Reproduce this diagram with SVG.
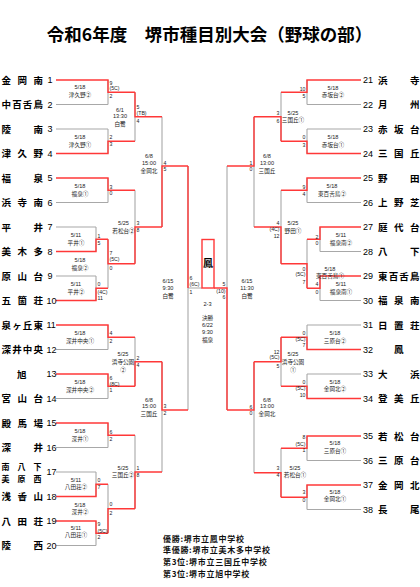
<svg xmlns="http://www.w3.org/2000/svg" width="420" height="587" viewBox="0 0 420 587">
<style>
.g{fill:none;stroke:#a8a8a8;stroke-width:1.1}
.r{fill:none;stroke:#ff3838;stroke-width:1.4}
.t{font-family:"Noto Sans CJK JP","Noto Sans",sans-serif;font-weight:bold;fill:#000}
.nm{font-size:9.5px}
.n2{font-size:8px}
.no{font-family:"Liberation Sans",Arial,sans-serif;font-size:9px;fill:#000}
.lb{font-family:"Liberation Sans","Noto Sans CJK JP",sans-serif;font-size:5.6px;text-anchor:middle;fill:#222}
.sc{font-family:"Liberation Sans",Arial,sans-serif;font-size:5.2px;fill:#222}
.se{text-anchor:end}
.ft{font-family:"Noto Sans CJK JP","Noto Sans",sans-serif;font-size:8px;letter-spacing:0.7px;font-weight:bold;fill:#111}
</style>
<rect width="420" height="587" fill="#fff"/>
<g id="title"><text class="t" x="209.5" y="41" font-size="17.5" text-anchor="middle">令和6年度　堺市種目別大会（野球の部）</text></g>

<g id="connectors">
<path class="g" d="M56 104.5H108M56 129H108M56 202.5H108M56 227H96M56 276H96M56 349.5H108M56 398.5H108M56 447.5H108M56 472H96M56 545.5H96M108 80V104.5M108 129V153.5M108 178V202.5M108 239.25V288.25M108 325V349.5M108 374V398.5M108 423V447.5M108 484.25V533.25M96 227V251.5M96 276V300.5M96 472V496.5M96 521V545.5M135 92.25V141.25M135 190.25V263.75M135 337.25V386.25M135 435.25V508.75M162 116.75V227M162 361.75V472M188 166V410M188 288H202"/>
<path class="g" d="M307 104.5H361M307 129H361M307 202.5H361M320 251.5H361M320 300.5H361M307 325H361M307 374H361M307 460.5H361M307 509.5H361M307 80V104.5M307 129V153.5M307 178V202.5M307 239.25V288.25M307 325V349.5M307 374V398.5M307 436V460.5M307 485V509.5M320 227V251.5M320 276V300.5M281 92.25V141.25M281 190.25V263.75M281 337.25V386.25M281 448.25V497.25M254 116.75V227M254 361.75V472.75M227 166V410"/>
<path class="r" d="M56 80H108V92.25H135M56 153.5H108V141.25H135M135 92.25V116.75H162M56 178H108V190.25H135M56 251.5H96V239.25H108M56 300.5H96V288.25H108M108 239.25V263.75H135M135 263.75V227H162M162 227V166H188M56 325H108V337.25H135M56 374H108V386.25H135M135 386.25V361.75H162M56 423H108V435.25H135M56 496.5H96V484.25H108M56 521H96V533.25H108M108 533.25V508.75H135M135 508.75V472H162M162 361.75V410H188M188 166V288"/>
<path class="r" d="M361 80H307V92.25H281M361 153.5H307V141.25H281M281 141.25V116.75H254M361 178H307V190.25H281M361 227H320V239.25H307M361 276H320V288.25H307M307 288.25V263.75H281M281 263.75V227H254M254 116.75V166H227M361 349.5H307V337.25H281M361 398.5H307V386.25H281M281 337.25V361.75H254M361 436H307V448.25H281M361 485H307V497.25H281M281 497.25V472.75H254M254 361.75V410H227M227 410V288H214"/>
</g>

<g id="champion"><rect class="r" x="202" y="239.5" width="12" height="48.5"/><text class="t" x="208" y="267" font-size="10" text-anchor="middle">鳳</text></g>

<g id="t1"><text class="t nm" x="1.5 17.5 33.5" y="83.6">金岡南</text><text class="no" x="47.5" y="83.2">1</text></g>
<g id="t2"><text class="t nm" x="1.5 12.2 22.8 33.5" y="108.1">中百舌鳥</text><text class="no" x="47.5" y="107.7">2</text></g>
<g id="t3"><text class="t nm" x="1.5 33.5" y="132.6">陵南</text><text class="no" x="47.5" y="132.2">3</text></g>
<g id="t4"><text class="t nm" x="1.5 17.5 33.5" y="157.1">津久野</text><text class="no" x="47.5" y="156.7">4</text></g>
<g id="t5"><text class="t nm" x="1.5 33.5" y="181.6">福泉</text><text class="no" x="47.5" y="181.2">5</text></g>
<g id="t6"><text class="t nm" x="1.5 17.5 33.5" y="206.1">浜寺南</text><text class="no" x="47.5" y="205.7">6</text></g>
<g id="t7"><text class="t nm" x="1.5 33.5" y="230.6">平井</text><text class="no" x="47.5" y="230.2">7</text></g>
<g id="t8"><text class="t nm" x="1.5 17.5 33.5" y="255.1">美木多</text><text class="no" x="47.5" y="254.7">8</text></g>
<g id="t9"><text class="t nm" x="1.5 17.5 33.5" y="279.6">原山台</text><text class="no" x="47.5" y="279.2">9</text></g>
<g id="t10"><text class="t nm" x="1.5 17.5 33.5" y="304.1">五箇荘</text><text class="no" x="46.5" y="303.7">10</text></g>
<g id="t11"><text class="t nm" x="1.5 12.2 22.8 33.5" y="328.6">泉ヶ丘東</text><text class="no" x="46.5" y="328.2">11</text></g>
<g id="t12"><text class="t nm" x="1.5 12.2 22.8 33.5" y="353.1">深井中央</text><text class="no" x="46.5" y="352.7">12</text></g>
<g id="t13"><text class="t nm" x="17" y="377.6">旭</text><text class="no" x="46.5" y="377.2">13</text></g>
<g id="t14"><text class="t nm" x="1.5 17.5 33.5" y="402.1">宮山台</text><text class="no" x="46.5" y="401.7">14</text></g>
<g id="t15"><text class="t nm" x="1.5 17.5 33.5" y="426.6">殿馬場</text><text class="no" x="46.5" y="426.2">15</text></g>
<g id="t16"><text class="t nm" x="1.5 33.5" y="451.1">深井</text><text class="no" x="46.5" y="450.7">16</text></g>
<g id="t17"><text class="t n2" x="1.5 17.5 33.5" y="469.9">南八下</text><text class="t n2" x="1.5 17.5 33.5" y="481.6">美原西</text><text class="no" x="46.5" y="475.2">17</text></g>
<g id="t18"><text class="t nm" x="1.5 17.5 33.5" y="500.1">浅香山</text><text class="no" x="46.5" y="499.7">18</text></g>
<g id="t19"><text class="t nm" x="1.5 17.5 33.5" y="524.6">八田荘</text><text class="no" x="46.5" y="524.2">19</text></g>
<g id="t20"><text class="t nm" x="1.5 33.5" y="549.1">陵西</text><text class="no" x="46.5" y="548.7">20</text></g>

<g id="t21"><text class="no" x="363" y="83.2">21</text><text class="t nm" x="378 410" y="83.6">浜寺</text></g>
<g id="t22"><text class="no" x="363" y="107.7">22</text><text class="t nm" x="378 410" y="108.1">月州</text></g>
<g id="t23"><text class="no" x="363" y="132.2">23</text><text class="t nm" x="378 394 410" y="132.6">赤坂台</text></g>
<g id="t24"><text class="no" x="363" y="156.7">24</text><text class="t nm" x="378 394 410" y="157.1">三国丘</text></g>
<g id="t25"><text class="no" x="363" y="181.2">25</text><text class="t nm" x="378 410" y="181.6">野田</text></g>
<g id="t26"><text class="no" x="363" y="205.7">26</text><text class="t nm" x="378 394 410" y="206.1">上野芝</text></g>
<g id="t27"><text class="no" x="363" y="230.2">27</text><text class="t nm" x="378 394 410" y="230.6">庭代台</text></g>
<g id="t28"><text class="no" x="363" y="254.7">28</text><text class="t nm" x="378 410" y="255.1">八下</text></g>
<g id="t29"><text class="no" x="363" y="279.2">29</text><text class="t nm" x="378 388.7 399.3 410" y="279.6">東百舌鳥</text></g>
<g id="t30"><text class="no" x="363" y="303.7">30</text><text class="t nm" x="378 394 410" y="304.1">福泉南</text></g>
<g id="t31"><text class="no" x="363" y="328.2">31</text><text class="t nm" x="378 394 410" y="328.6">日置荘</text></g>
<g id="t32"><text class="no" x="363" y="352.7">32</text><text class="t nm" x="394" y="353.1">鳳</text></g>
<g id="t33"><text class="no" x="363" y="377.2">33</text><text class="t nm" x="378 410" y="377.6">大浜</text></g>
<g id="t34"><text class="no" x="363" y="401.7">34</text><text class="t nm" x="378 394 410" y="402.1">登美丘</text></g>
<g id="t35"><text class="no" x="363" y="439.2">35</text><text class="t nm" x="378 394 410" y="439.6">若松台</text></g>
<g id="t36"><text class="no" x="363" y="463.7">36</text><text class="t nm" x="378 394 410" y="464.1">三原台</text></g>
<g id="t37"><text class="no" x="363" y="488.2">37</text><text class="t nm" x="378 394 410" y="488.6">金岡北</text></g>
<g id="t38"><text class="no" x="363" y="512.7">38</text><text class="t nm" x="378 410" y="513.1">長尾</text></g>

<g id="m1"><text class="lb" x="80" y="89.35">5/18</text><text class="lb" x="80" y="97.15">津久野②</text><text class="sc" x="109.5" y="84.5">9</text><text class="sc" x="109.5" y="90.3">(5C)</text><text class="sc" x="109.5" y="98">2</text></g>
<g id="m2"><text class="lb" x="80" y="139.35">5/18</text><text class="lb" x="80" y="147.15">津久野①</text><text class="sc" x="109.5" y="139.3">2</text><text class="sc" x="109.5" y="146.3">3</text></g>
<g id="m3"><text class="lb" x="120" y="111.9">6/1</text><text class="lb" x="120" y="118.3">13:30</text><text class="lb" x="120" y="126.2">白鷺</text><text class="sc" x="136.5" y="108.7">5</text><text class="sc" x="136.5" y="115.3">(TB)</text><text class="sc" x="136.5" y="123">4</text></g>
<g id="m4"><text class="lb" x="80" y="187.85">5/18</text><text class="lb" x="80" y="195.65">福泉①</text><text class="sc" x="109.5" y="188.5">3</text><text class="sc" x="109.5" y="195">0</text></g>
<g id="m5"><text class="lb" x="76" y="237.1">5/11</text><text class="lb" x="76" y="244.9">平井①</text><text class="sc" x="97.5" y="238">1</text><text class="sc" x="97.5" y="244.7">5</text></g>
<g id="m6"><text class="lb" x="76" y="285.85">5/11</text><text class="lb" x="76" y="293.65">平井②</text><text class="sc" x="97.5" y="286.3">0</text><text class="sc" x="97.5" y="293.7">(4C)</text><text class="sc" x="97.5" y="300.3">11</text></g>
<g id="m7"><text class="lb" x="80" y="262.1">5/18</text><text class="lb" x="80" y="269.9">福泉②</text><text class="sc" x="109.5" y="255.1">7</text><text class="sc" x="109.5" y="261">(5C)</text><text class="sc" x="109.5" y="269.7">0</text></g>
<g id="m8"><text class="lb" x="123.5" y="225.35">5/25</text><text class="lb" x="123.5" y="233.15">若松台②</text><text class="sc" x="136.5" y="225.3">3</text><text class="sc" x="136.5" y="231.5">8</text></g>
<g id="m9"><text class="lb" x="149" y="158.4">6/8</text><text class="lb" x="149" y="164.8">15:00</text><text class="lb" x="149" y="172.7">金岡北</text><text class="sc" x="163.5" y="164.7">4</text><text class="sc" x="163.5" y="171.3">5</text></g>
<g id="m10"><text class="lb" x="80" y="334.85">5/18</text><text class="lb" x="80" y="342.65">深井中央①</text><text class="sc" x="109.5" y="335.3">4</text><text class="sc" x="109.5" y="343">2</text></g>
<g id="m11"><text class="lb" x="80" y="384.35">5/18</text><text class="lb" x="80" y="392.15">深井中央②</text><text class="sc" x="109.5" y="379.7">6</text><text class="sc" x="109.5" y="385.5">(8C)</text><text class="sc" x="109.5" y="392">1</text></g>
<g id="m12"><text class="lb" x="123" y="356.05">5/25</text><text class="lb" x="123" y="364">浜寺公園</text><text class="lb" x="123" y="372.05">②</text><text class="sc" x="136.5" y="359.7">2</text><text class="sc" x="136.5" y="367">4</text></g>
<g id="m13"><text class="lb" x="80" y="432.85">5/18</text><text class="lb" x="80" y="440.65">深井①</text><text class="sc" x="109.5" y="433.7">6</text><text class="sc" x="109.5" y="441">2</text></g>
<g id="m14"><text class="lb" x="76" y="481.6">5/11</text><text class="lb" x="76" y="489.4">八田荘②</text><text class="sc" x="97.5" y="482">0</text><text class="sc" x="97.5" y="489.3">7</text></g>
<g id="m15"><text class="lb" x="76" y="529.6">5/11</text><text class="lb" x="76" y="537.4">八田荘①</text><text class="sc" x="97.5" y="526.3">9</text><text class="sc" x="97.5" y="532.7">(5C)</text><text class="sc" x="97.5" y="539.3">2</text></g>
<g id="m16"><text class="lb" x="80" y="506.6">5/18</text><text class="lb" x="80" y="514.4">深井②</text><text class="sc" x="109.5" y="506">0</text><text class="sc" x="109.5" y="515.3">2</text></g>
<g id="m17"><text class="lb" x="123" y="469.6">5/25</text><text class="lb" x="123" y="477.4">三国丘②</text><text class="sc" x="136.5" y="470.3">1</text><text class="sc" x="136.5" y="477">8</text></g>
<g id="m18"><text class="lb" x="149" y="401.9">6/8</text><text class="lb" x="149" y="408.3">15:00</text><text class="lb" x="149" y="416.2">三国丘</text><text class="sc" x="163.5" y="408">3</text><text class="sc" x="163.5" y="414.7">2</text></g>
<g id="sf1"><text class="lb" x="168" y="283.4">6/15</text><text class="lb" x="168" y="289.8">9:30</text><text class="lb" x="168" y="297.7">白鷺</text><text class="sc" x="189.5" y="279.7">6</text><text class="sc" x="189.5" y="285.5">(6C)</text><text class="sc" x="189.5" y="293.7">1</text></g>
<g id="sf2"><text class="lb" x="247" y="283.4">6/15</text><text class="lb" x="247" y="289.8">11:30</text><text class="lb" x="247" y="297.7">白鷺</text><text class="sc se" x="225.5" y="286.3">5</text><text class="sc se" x="225.5" y="292.7">(10)</text><text class="sc se" x="225.5" y="298.7">6</text></g>
<g id="final"><text class="lb" x="207.5" y="306">2-3</text><text class="lb" x="207.5" y="320.1">決勝</text><text class="lb" x="207.5" y="326.9">6/22</text><text class="lb" x="207.5" y="333.7">9:30</text><text class="lb" x="207.5" y="341.6">福泉</text></g>

<g id="r1"><text class="lb" x="333" y="89.6">5/18</text><text class="lb" x="333" y="97.4">赤坂台②</text><text class="sc se" x="305.5" y="91.3">10</text><text class="sc se" x="305.5" y="97.7">5</text></g>
<g id="r2"><text class="lb" x="333" y="138.85">5/18</text><text class="lb" x="333" y="146.65">赤坂台①</text><text class="sc se" x="305.5" y="139.3">0</text><text class="sc se" x="305.5" y="147">3</text></g>
<g id="r3"><text class="lb" x="293" y="114.6">5/25</text><text class="lb" x="293" y="122.4">三国丘①</text><text class="sc se" x="279.5" y="115.3">3</text><text class="sc se" x="279.5" y="123">6</text></g>
<g id="r4"><text class="lb" x="332" y="187.85">5/18</text><text class="lb" x="332" y="195.65">東百舌鳥②</text><text class="sc se" x="305.5" y="188.7">9</text><text class="sc se" x="305.5" y="196">4</text></g>
<g id="r5"><text class="lb" x="341" y="237.1">5/11</text><text class="lb" x="341" y="244.9">福泉南②</text><text class="sc se" x="318.5" y="238.7">2</text><text class="sc se" x="318.5" y="244.7">0</text></g>
<g id="r6"><text class="lb" x="330" y="270.6">5/18</text><text class="lb" x="330" y="278.4">東百舌鳥①</text><text class="sc se" x="305.5" y="270.6">0</text><text class="sc se" x="305.5" y="276.4">(5C)</text><text class="sc se" x="305.5" y="283.7">7</text></g>
<g id="r7"><text class="lb" x="341" y="285.85">5/11</text><text class="lb" x="341" y="293.65">福泉南①</text><text class="sc se" x="318.5" y="286.3">4</text><text class="sc se" x="318.5" y="293.7">0</text></g>
<g id="r8"><text class="lb" x="293" y="225.35">5/25</text><text class="lb" x="293" y="233.15">野田①</text><text class="sc se" x="279.5" y="225.3">4</text><text class="sc se" x="279.5" y="231.3">(4C)</text><text class="sc se" x="279.5" y="238">12</text></g>
<g id="r9"><text class="lb" x="267" y="158.4">6/8</text><text class="lb" x="267" y="164.8">13:00</text><text class="lb" x="267" y="172.7">三国丘</text><text class="sc se" x="252.5" y="164.7">1</text><text class="sc se" x="252.5" y="171.3">0</text></g>
<g id="r10"><text class="lb" x="335" y="334.85">5/18</text><text class="lb" x="335" y="342.65">三原台②</text><text class="sc se" x="305.5" y="334.9">0</text><text class="sc se" x="305.5" y="340.7">(5C)</text><text class="sc se" x="305.5" y="346.5">7</text></g>
<g id="r11"><text class="lb" x="335" y="383.6">5/18</text><text class="lb" x="335" y="391.4">金岡北②</text><text class="sc se" x="305.5" y="384.4">0</text><text class="sc se" x="305.5" y="390.2">(5C)</text><text class="sc se" x="305.5" y="397">10</text></g>
<g id="r12"><text class="lb" x="293" y="356.05">5/25</text><text class="lb" x="293" y="364">浜寺公園</text><text class="lb" x="293" y="372.05">①</text><text class="sc se" x="279.5" y="353.5">12</text><text class="sc se" x="279.5" y="359.3">(5C)</text><text class="sc se" x="279.5" y="368">5</text></g>
<g id="r13"><text class="lb" x="335" y="445.1">5/18</text><text class="lb" x="335" y="452.9">三原台①</text><text class="sc se" x="305.5" y="439">8</text><text class="sc se" x="305.5" y="445.7">(5C)</text><text class="sc se" x="305.5" y="452">1</text></g>
<g id="r14"><text class="lb" x="335" y="493.6">5/18</text><text class="lb" x="335" y="501.4">金岡北①</text><text class="sc se" x="305.5" y="494.3">3</text><text class="sc se" x="305.5" y="502">0</text></g>
<g id="r15"><text class="lb" x="295" y="469.6">5/25</text><text class="lb" x="295" y="477.4">若松台①</text><text class="sc se" x="279.5" y="470.3">3</text><text class="sc se" x="279.5" y="477">4</text></g>
<g id="r16"><text class="lb" x="267" y="401.9">6/8</text><text class="lb" x="267" y="408.3">13:00</text><text class="lb" x="267" y="416.2">金岡北</text><text class="sc se" x="252.5" y="408.7">6</text><text class="sc se" x="252.5" y="415.3">0</text></g>

<g id="result">
<text class="ft" x="163" y="541.7">優勝:堺市立鳳中学校</text>
<text class="ft" x="163" y="553.3">準優勝:堺市立美木多中学校</text>
<text class="ft" x="163" y="564.9">第3位:堺市立三国丘中学校</text>
<text class="ft" x="163" y="576.5">第3位:堺市立旭中学校</text>
</g>
</svg>
